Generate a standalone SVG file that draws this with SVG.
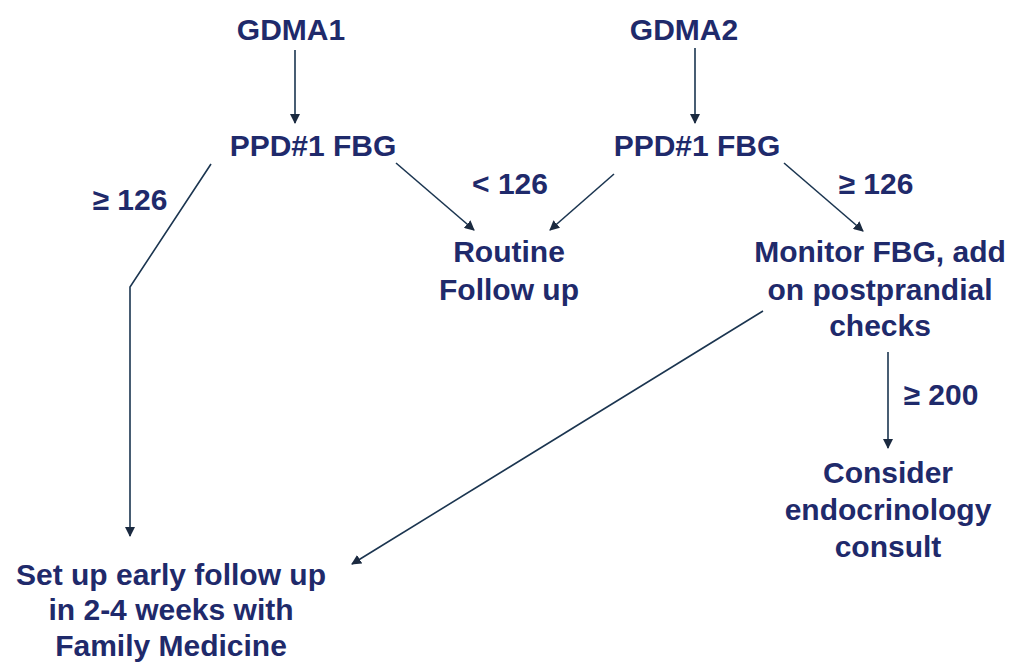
<svg xmlns="http://www.w3.org/2000/svg" width="1016" height="664" viewBox="0 0 1016 664">
<style>
text{font-family:"Liberation Sans",Arial,sans-serif;font-weight:bold;font-size:30px;fill:#1f2a6b;text-anchor:middle}
.c{stroke:#1b3550;stroke-width:1.6;fill:none}
</style>
<defs>
<marker id="ah" markerWidth="10" markerHeight="10" refX="9" refY="5" orient="auto" markerUnits="userSpaceOnUse">
<path d="M0,0 L10,5 L0,10 Z" fill="#1b2a40"/>
</marker>
</defs>
<rect width="1016" height="664" fill="#fff"/>
<g id="connectors">
<line class="c" x1="295" y1="50" x2="295" y2="123" marker-end="url(#ah)"/>
<line class="c" x1="695" y1="48" x2="695" y2="123" marker-end="url(#ah)"/>
<polyline class="c" points="211,164 130,287 130,536" marker-end="url(#ah)"/>
<line class="c" x1="396" y1="163" x2="474" y2="230" marker-end="url(#ah)"/>
<line class="c" x1="614" y1="174" x2="550" y2="230" marker-end="url(#ah)"/>
<line class="c" x1="784" y1="163" x2="863" y2="231" marker-end="url(#ah)"/>
<line class="c" x1="763" y1="311" x2="352" y2="564" marker-end="url(#ah)"/>
<line class="c" x1="888" y1="352" x2="888" y2="448" marker-end="url(#ah)"/>
</g>
<g id="gdma1"><text x="291" y="40">GDMA1</text></g>
<g id="gdma2"><text x="684" y="40">GDMA2</text></g>
<g id="ppd1"><text x="313" y="156">PPD#1 FBG</text></g>
<g id="ppd2"><text x="697" y="156">PPD#1 FBG</text></g>
<g id="lbl-ge126-left"><text x="130" y="210">≥ 126</text></g>
<g id="lbl-lt126"><text x="510" y="194">&lt; 126</text></g>
<g id="lbl-ge126-right"><text x="876" y="194">≥ 126</text></g>
<g id="lbl-ge200"><text x="941" y="405">≥ 200</text></g>
<g id="routine"><text x="509" y="262">Routine</text><text x="509" y="300">Follow up</text></g>
<g id="monitor"><text x="880" y="262">Monitor FBG, add</text><text x="880" y="300">on postprandial</text><text x="880" y="336">checks</text></g>
<g id="consider"><text x="888" y="483">Consider</text><text x="888" y="520">endocrinology</text><text x="888" y="557">consult</text></g>
<g id="setup"><text x="171" y="585">Set up early follow up</text><text x="171" y="620">in 2-4 weeks with</text><text x="171" y="656">Family Medicine</text></g>
</svg>
